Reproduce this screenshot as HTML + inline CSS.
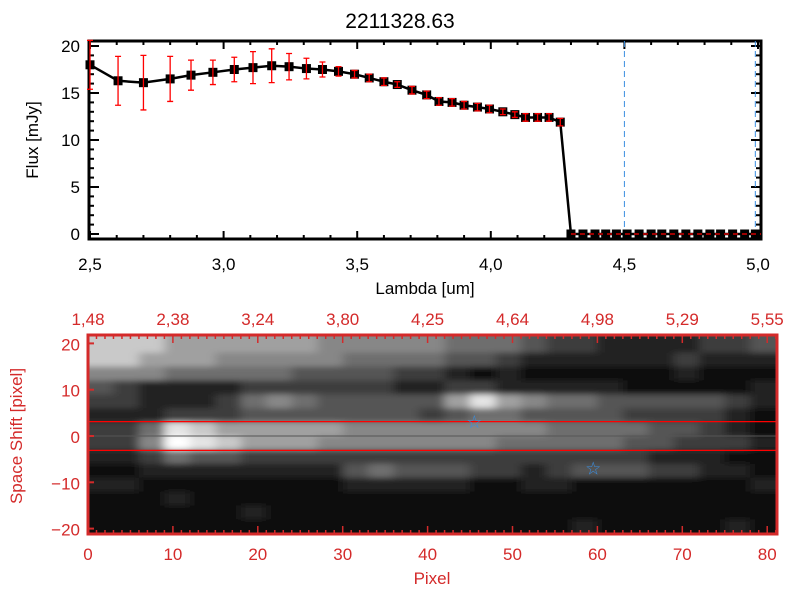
<!DOCTYPE html>
<html><head><meta charset="utf-8"><style>
body{margin:0;background:#fff}
svg{display:block;font-family:"Liberation Sans",sans-serif}
</style></head><body>
<svg id="c" width="800" height="600" xmlns="http://www.w3.org/2000/svg">
<defs>
<filter id="bl" x="-5%" y="-5%" width="110%" height="110%"><feGaussianBlur stdDeviation="5,3"/></filter>
<clipPath id="cp"><rect x="88" y="335" width="689" height="199"/></clipPath>
</defs>
</svg>
<script>
const lambdas=[2.50,2.605,2.70,2.80,2.878,2.96,3.04,3.11,3.18,3.245,3.31,3.37,3.43,3.49,3.545,3.60,3.65,3.705,3.76,3.806,3.855,3.90,3.95,3.995,4.045,4.09,4.13,4.175,4.218,4.26,4.30,4.345,4.39,4.43,4.47,4.51,4.555,4.60,4.64,4.685,4.73,4.775,4.82,4.86,4.905,4.95,4.99];
const flux=[18.0,16.3,16.1,16.5,16.9,17.2,17.5,17.7,17.9,17.8,17.6,17.5,17.3,17.0,16.6,16.2,15.9,15.3,14.8,14.1,14.0,13.7,13.5,13.3,13.0,12.7,12.4,12.4,12.4,11.9,0,0,0,0,0,0,0,0,0,0,0,0,0,0,0,0,0];
const fluxErr=[2.6,2.6,2.9,2.4,1.6,1.3,1.3,1.7,1.8,1.4,1.1,0.8,0.5,0.4,0.4,0.4,0.3,0.4,0.4,0.4,0.4,0.4,0.4,0.4,0.3,0.3,0.4,0.4,0.4,0.4,0,0,0,0,0,0,0,0,0,0,0,0,0,0,0,0,0];
const xTicks=["2.5","3.0","3.5","4.0","4.5","5.0"];
const yTicks=[0,5,10,15,20];
const topLabels=["1.48","2.38","3.24","3.80","4.25","4.64","4.98","5.29","5.55"];
const pixTicks=[0,10,20,30,40,50,60,70,80];
const shiftTicks=[-20,-10,0,10,20];
const heat=[
[7,7,7,6,6,6,6,6,6,5,5,5,5,5,4,4,4,3,2,2,1,1,1,1,2,2,3],
[7,7,6,6,6,5,5,5,5,5,4,4,4,4,3,3,2,1,1,1,1,1,1,2,1,1,1],
[5,5,5,4,4,4,4,4,3,3,3,3,2,2,1,0,1,0,0,0,0,0,0,1,0,0,0],
[3,2,1,1,1,1,2,2,2,2,2,2,1,1,2,2,1,1,1,1,1,0,0,0,0,0,1],
[2,2,1,1,1,2,4,5,4,3,3,3,3,3,6,8,6,5,4,4,3,3,3,3,3,2,1],
[1,1,1,2,2,2,3,3,3,3,3,3,3,2,3,4,4,3,3,3,3,2,2,2,2,1,0],
[2,2,4,8,7,6,6,6,6,6,5,5,5,5,5,5,5,5,4,4,4,4,3,3,2,1,0],
[2,2,5,9,8,7,6,6,6,5,5,5,5,5,5,5,4,4,4,4,4,3,3,2,2,2,1],
[1,1,2,4,3,3,2,2,2,2,2,2,2,2,2,2,2,2,2,2,2,2,1,1,1,0,0],
[0,0,1,1,1,1,1,1,1,1,3,4,3,3,3,2,2,1,2,3,3,3,2,2,1,1,0],
[1,1,0,0,0,0,0,0,0,0,1,1,1,1,1,0,0,1,1,0,0,0,0,0,0,0,1],
[0,0,0,1,0,0,0,0,0,0,0,0,0,0,0,0,0,0,0,0,0,0,0,0,0,0,0],
[0,0,0,0,0,0,1,0,0,0,0,0,0,0,0,0,0,0,0,0,0,0,0,0,0,0,0],
[0,0,0,0,0,0,0,0,0,0,0,0,0,0,0,0,0,0,0,1,0,0,0,0,0,1,0]];
const stars=[[45.5,3],[59.5,-7]];

const svg=document.getElementById('c');const NS='http://www.w3.org/2000/svg';
function mk(t,a,txt,par){const e=document.createElementNS(NS,t);for(const k in a)e.setAttribute(k,a[k]);if(txt!==undefined)e.textContent=txt;(par||svg).appendChild(e);return e;}
const X=l=>90+(l-2.5)*267.2, Y=v=>234-v*9.4;
const RED='#d42a2a';
let t=mk('text',{x:400,y:28,'text-anchor':'middle','font-size':21});t.textContent='2211328.63';


let f=mk('rect',{x:89,y:41,width:672,height:198,fill:'none',stroke:'#000','stroke-width':3});


for(let i=0;i<=25;i++){const x=X(2.5+i*0.1),L=i%5==0?8:4;mk('line',{x1:x,y1:239,x2:x,y2:239-L,stroke:'#000','stroke-width':2});mk('line',{x1:x,y1:41,x2:x,y2:41+L,stroke:'#000','stroke-width':2});}
for(let v=0;v<=20;v++){const y=Y(v),L=v%5==0?10:5;mk('line',{x1:89,y1:y,x2:89+L,y2:y,stroke:'#000','stroke-width':2});mk('line',{x1:761,y1:y,x2:761-L,y2:y,stroke:'#000','stroke-width':2});}
xTicks.forEach(s=>{const e=mk('text',{x:X(+s),y:270,'text-anchor':'middle','font-size':17},s.replace('.',','));});
yTicks.forEach(v=>{const e=mk('text',{x:80,y:Y(v)+6,'text-anchor':'end','font-size':17},String(v));});
t=mk('text',{x:425,y:294,'text-anchor':'middle','font-size':17},'Lambda [um]');
t=mk('text',{x:0,y:0,'text-anchor':'middle','font-size':17,transform:'translate(38,140) rotate(-90)'},'Flux [mJy]');
let d=mk('line',{x1:X(4.5),y1:41,x2:X(4.5),y2:239,stroke:'#3a8ee0','stroke-width':1,'stroke-dasharray':'6,4'});
d=mk('line',{x1:X(4.99),y1:41,x2:X(4.99),y2:239,stroke:'#3a8ee0','stroke-width':1,'stroke-dasharray':'6,4'});
let p=mk('polyline',{points:lambdas.map((l,i)=>X(l)+','+Y(flux[i])).join(' '),fill:'none',stroke:'#000','stroke-width':2.5});

lambdas.forEach((l,i)=>{const x=X(l),y=Y(flux[i]);
 const r=mk('rect',{x:x-4.5,y:y-4.5,width:9,height:9,fill:'#000'});
 if(fluxErr[i]>0){const y1=Y(flux[i]+fluxErr[i]),y2=Y(flux[i]-fluxErr[i]);
  const g=mk('path',{d:`M${x},${y1}V${y2}M${x-3},${y1}H${x+3}M${x-3},${y2}H${x+3}`,stroke:'#f00','stroke-width':1.3,fill:'none'});}});
d=mk('line',{x1:X(4.3),y1:Y(0),x2:761,y2:Y(0),stroke:'#f00','stroke-width':1.3,'stroke-dasharray':'5,4'});
// bottom heatmap
const PX=v=>88+v*8.49, SY=v=>436-v*4.63;
const bg=mk('rect',{x:88,y:335,width:689,height:199,fill:'#0a0a0a'});

const clipG=mk('g',{'clip-path':'url(#cp)'});

const hg=mk('g',{filter:'url(#bl)'},undefined,clipG);
heat.forEach((row,r)=>row.forEach((v,c)=>{const g=Math.round(10+v*245/9*(v>=7?1:0.92));
 const e=mk('rect',{x:PX(c*3)-(c==0?12:0),y:SY(21-r*3)-(r==0?10:0),width:8.49*3+0.5+(c==0||c==26?12:0),height:4.63*3+0.5+(r==0||r==13?10:0),fill:`rgb(${g},${g},${g})`},undefined,hg);
 }));
[3.1,-3.1].forEach(v=>{const e=mk('line',{x1:88,y1:SY(v),x2:777,y2:SY(v),stroke:'#f00','stroke-width':1.3});});
d=mk('line',{x1:88,y1:SY(0),x2:777,y2:SY(0),stroke:'#555','stroke-width':1});
stars.forEach(s=>{const e=mk('text',{x:PX(s[0]),y:SY(s[1])+6,'text-anchor':'middle','font-size':18,fill:'#3a8ee0',style:'font-family:"DejaVu Sans",sans-serif'},'☆');});
f=mk('rect',{x:88,y:335,width:689,height:199,fill:'none',stroke:RED,'stroke-width':3});
for(let v=0;v<=81;v++){const x=PX(v),L=v%10==0?8:4;mk('line',{x1:x,y1:534,x2:x,y2:534-L,stroke:RED,'stroke-width':1.5});mk('line',{x1:x,y1:335,x2:x,y2:335+L,stroke:RED,'stroke-width':1.5});}
shiftTicks.forEach(v=>{mk('line',{x1:88,y1:SY(v),x2:94,y2:SY(v),stroke:RED,'stroke-width':2});const e=mk('text',{x:80,y:SY(v)+7,'text-anchor':'end','font-size':17,fill:RED},String(v).replace('-','−'));});
pixTicks.forEach(v=>{const e=mk('text',{x:PX(v),y:560,'text-anchor':'middle','font-size':17,fill:RED},String(v));});
topLabels.forEach((s,i)=>{const e=mk('text',{x:PX(i*10),y:325,'text-anchor':'middle','font-size':17,fill:RED},s.replace('.',','));});
t=mk('text',{x:432,y:584,'text-anchor':'middle','font-size':17,fill:RED},'Pixel');
t=mk('text',{x:0,y:0,'text-anchor':'middle','font-size':17,fill:RED,transform:'translate(22,436) rotate(-90)'},'Space Shift [pixel]');
</script>
</body></html>
